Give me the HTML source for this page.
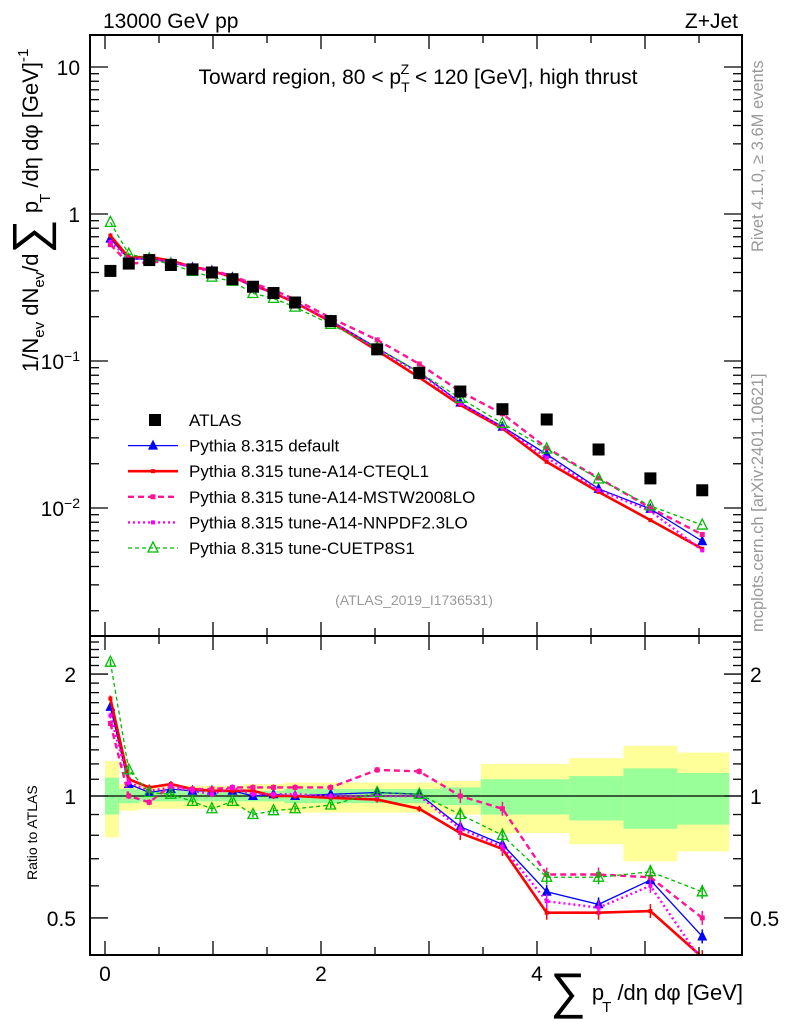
<!DOCTYPE html>
<html><head><meta charset="utf-8"><style>
body{margin:0;background:#fff;}
svg{display:block;font-family:"Liberation Sans",sans-serif;}
</style></head><body>
<svg id="chart" width="786" height="1024" viewBox="0 0 786 1024">
<g id="bands"></g>
<g id="marks"></g>
<g id="axes"></g>
<text x="103" y="28" font-size="21">13000 GeV pp</text>
<text x="738" y="28" font-size="21" text-anchor="end">Z+Jet</text>
<text x="418" y="84" font-size="21" text-anchor="middle">Toward region, 80 &lt; p<tspan font-size="14" dy="8">T</tspan><tspan font-size="14" dx="-9" dy="-18">Z</tspan><tspan dy="10"> &lt; 120 [GeV], high thrust</tspan></text>
<text x="414" y="605" font-size="14" fill="#999" text-anchor="middle">(ATLAS_2019_I1736531)</text>
<text transform="translate(763,252) rotate(-90)" font-size="16.5" fill="#999">Rivet 4.1.0, ≥ 3.6M events</text>
<text transform="translate(763,632) rotate(-90)" font-size="16.5" fill="#999">mcplots.cern.ch [arXiv:2401.10621]</text>
<text transform="translate(38,372) rotate(-90)" font-size="22">1/N<tspan font-size="15" dy="6">ev</tspan><tspan dy="-6"> dN</tspan><tspan font-size="15" dy="6">ev</tspan><tspan dy="-6">/d</tspan><tspan font-size="48" dy="8">∑</tspan><tspan dy="-8"> p</tspan><tspan font-size="15" dx="-2" dy="12">T</tspan><tspan dy="-12"> /dη dφ  [GeV]</tspan><tspan font-size="15" dy="-10">-1</tspan></text>
<text transform="translate(37,880) rotate(-90)" font-size="14">Ratio to ATLAS</text>
<text x="743" y="1000" font-size="22" text-anchor="end"><tspan font-size="50" dy="8">∑</tspan><tspan dy="-8"> p</tspan><tspan font-size="15" dx="-2" dy="12">T</tspan><tspan dy="-12"> /dη dφ [GeV]</tspan></text>
<g id="legend"></g>
</svg>
<script>
const xCenters=[0.05,0.22,0.41,0.61,0.81,0.99,1.18,1.37,1.56,1.76,2.09,2.52,2.91,3.29,3.68,4.09,4.57,5.05,5.53];
const binEdges=[0,0.13,0.32,0.51,0.71,0.9,1.09,1.28,1.47,1.66,1.9,2.3,2.72,3.1,3.48,3.88,4.3,4.8,5.3,5.78];
const atlas=[0.41,0.46,0.486,0.45,0.42,0.40,0.36,0.32,0.29,0.25,0.187,0.12,0.083,0.062,0.047,0.040,0.025,0.0159,0.0132];
const greenHi=[1.11,1.04,1.03,1.03,1.03,1.03,1.03,1.03,1.03,1.04,1.04,1.04,1.04,1.05,1.1,1.1,1.12,1.17,1.14];
const greenLo=[0.90,0.96,0.97,0.97,0.97,0.97,0.97,0.97,0.97,0.96,0.96,0.96,0.96,0.95,0.9,0.9,0.87,0.83,0.85];
const yellowHi=[1.22,1.07,1.06,1.06,1.06,1.06,1.06,1.07,1.07,1.08,1.08,1.08,1.08,1.09,1.2,1.2,1.24,1.33,1.28];
const yellowLo=[0.79,0.92,0.93,0.93,0.93,0.93,0.93,0.92,0.92,0.91,0.91,0.91,0.91,0.9,0.81,0.81,0.76,0.69,0.73];
const rDefault=[1.66,1.07,1.02,1.04,1.03,1.03,1.03,1.0,1.01,1.0,1.01,1.02,1.01,0.84,0.76,0.58,0.54,0.62,0.45];
const rCTEQ=[1.74,1.10,1.05,1.07,1.04,1.03,1.03,1.03,1.0,1.0,0.99,0.98,0.93,0.81,0.74,0.515,0.515,0.52,0.40];
const rMSTW=[1.51,1.0,0.965,1.06,1.04,1.04,1.05,1.05,1.05,1.05,1.05,1.16,1.15,1.0,0.93,0.64,0.64,0.63,0.50];
const rNNPDF=[1.58,1.08,1.03,1.05,1.03,1.01,1.05,1.01,1.01,1.01,1.0,1.0,1.0,0.83,0.75,0.55,0.53,0.6,0.39];
const rCUET=[2.14,1.16,1.02,1.01,0.97,0.93,0.97,0.90,0.92,0.93,0.95,1.02,1.01,0.90,0.80,0.63,0.63,0.65,0.58];
const legendLabels=["ATLAS","Pythia 8.315 default","Pythia 8.315 tune-A14-CTEQL1","Pythia 8.315 tune-A14-MSTW2008LO","Pythia 8.315 tune-A14-NNPDF2.3LO","Pythia 8.315 tune-CUETP8S1"];

const NS="http://www.w3.org/2000/svg";
const L=90,R=742,T=35,MB=636,RB=955;
const X=v=>105+108*v;
const Ym=v=>214-147*Math.log10(v);
const Yr=v=>796-405*Math.log10(v);
function mk(tag,at,parent){const e=document.createElementNS(NS,tag);for(const k in at)e.setAttribute(k,at[k]);(parent||document.getElementById('marks')).appendChild(e);return e;}
const bands=document.getElementById('bands');
for(let i=0;i<xCenters.length;i++){
  const x0=X(binEdges[i]),x1=X(binEdges[i+1]);
  const y=mk('rect',{x:x0,y:Yr(yellowHi[i]),width:x1-x0,height:Yr(yellowLo[i])-Yr(yellowHi[i]),fill:'#ffff99'},bands);
  
  
  const g=mk('rect',{x:x0,y:Yr(greenHi[i]),width:x1-x0,height:Yr(greenLo[i])-Yr(greenHi[i]),fill:'#99ff99'},bands);
  
  
}
mk('line',{x1:L,x2:R,y1:Yr(1),y2:Yr(1),stroke:'#000','stroke-width':1.2},bands);
const series=[
 {r:rDefault,c:'#0000ff',w:1.3,d:'',m:'tri',n:'default'},
 {r:rCTEQ,c:'#ff0000',w:2.6,d:'',m:'cap',n:'cteql1'},
 {r:rMSTW,c:'#ff1493',w:2.4,d:'6,4',m:'sq',n:'mstw'},
 {r:rNNPDF,c:'#ff00ff',w:2.4,d:'2,3',m:'cap',n:'nnpdf'},
 {r:rCUET,c:'#00bb00',w:1.3,d:'4,3',m:'otri',n:'cuetp8s1'}];
function marker(s,x,y,parent){
  if(s.m==='tri'){const p=mk('polygon',{points:`${x-5},${y+4} ${x+5},${y+4} ${x},${y-6}`,fill:s.c},parent);}
  else if(s.m==='otri'){const p=mk('polygon',{points:`${x-5},${y+4} ${x+5},${y+4} ${x},${y-6}`,fill:'none',stroke:s.c,'stroke-width':1.3},parent);}
  else if(s.m==='sq'){const p=mk('rect',{x:x-2.5,y:y-2.5,width:5,height:5,fill:s.c},parent);}
  else {const p=mk('rect',{x:x-2,y:y-2,width:4,height:4,fill:s.c},parent);}
}
const clipR=mk('clipPath',{id:'cr'},document.getElementById('chart'));
mk('rect',{x:L,y:636,width:R-L,height:RB-636},clipR);
const gm=mk('g',{}),gr=mk('g',{'clip-path':'url(#cr)'});
series.forEach(s=>{
  const pm=xCenters.map((x,i)=>X(x)+','+Ym(atlas[i]*s.r[i])).join(' ');
  const pr=xCenters.map((x,i)=>X(x)+','+Yr(s.r[i])).join(' ');
  const a=mk('polyline',{points:pm,fill:'none',stroke:s.c,'stroke-width':s.w,'stroke-dasharray':s.d},gm);
  
  
  const b=mk('polyline',{points:pr,fill:'none',stroke:s.c,'stroke-width':s.w,'stroke-dasharray':s.d},gr);
  
  
  xCenters.forEach((x,i)=>{
    marker(s,X(x),Ym(atlas[i]*s.r[i]),gm);
    const yy=Yr(s.r[i]);
    const e=(i>12?7:3);
    mk('line',{x1:X(x),x2:X(x),y1:yy-e,y2:yy+e,stroke:s.c,'stroke-width':1.5},gr);
    marker(s,X(x),yy,gr);
  });
});
xCenters.forEach((x,i)=>{
  const p=mk('rect',{x:X(x)-6,y:Ym(atlas[i])-6,width:12,height:12,fill:'#000'},gm);
  
  
});
const lg=document.getElementById('legend');
legendLabels.forEach((t,i)=>{
  const y=420+i*25.6;
  const tx=mk('text',{x:189,y:y+6,'font-size':17},lg);tx.textContent=t;
  
  
  if(i===0){mk('rect',{x:149,y:y-6,width:12,height:12,fill:'#000'},lg);}
  else{const s=series[i-1];mk('line',{x1:128,x2:178,y1:y,y2:y,stroke:s.c,'stroke-width':s.w,'stroke-dasharray':s.d},lg);marker(s,153,y,lg);}
});
const ax=document.getElementById('axes');
mk('rect',{x:L,y:T,width:R-L,height:RB-T,fill:'none',stroke:'#000','stroke-width':2},ax);
mk('line',{x1:L,x2:R,y1:MB,y2:MB,stroke:'#000','stroke-width':2},ax);
function tl(x1,y1,x2,y2){mk('line',{x1,y1,x2,y2,stroke:'#000','stroke-width':1.3},ax);}
function txt(x,y,s,anchor,fs){const t=mk('text',{x,y,'font-size':fs||21,'text-anchor':anchor},ax);t.innerHTML=s;return t;}
for(let v=0;v<=5.5;v+=0.5){const x=X(v),l=(v%1===0)?14:8;
  [T,MB].forEach(y=>tl(x,y,x,y+l));[MB,RB].forEach(y=>tl(x,y,x,y-l));}
[[0,'0'],[2,'2'],[4,'4']].forEach(([v,s])=>txt(X(v),981,s,'middle',21));
for(let e=-3;e<=1;e++)for(let m=1;m<10;m++){const v=m*Math.pow(10,e),y=Ym(v);if(y<T||y>MB)continue;const l=m===1?18:9;tl(L,y,L+l,y);tl(R,y,R-l,y);}
txt(80,75,'10','end');txt(80,222,'1','end');
txt(80,369,'10<tspan font-size="14" dy="-8">−1</tspan>','end');
txt(80,516,'10<tspan font-size="14" dy="-8">−2</tspan>','end');
for(let k=4;k<=24;k++){const v=k/10,y=Yr(v);if(y<636||y>RB)continue;const l=(k===5||k===10||k===20)?18:9;tl(L,y,L+l,y);tl(R,y,R-l,y);}
[[2,'2'],[1,'1'],[0.5,'0.5']].forEach(([v,s])=>{txt(76,Yr(v)+8,s,'end');txt(750,Yr(v)+8,s,'start');});
</script>
</body></html>
